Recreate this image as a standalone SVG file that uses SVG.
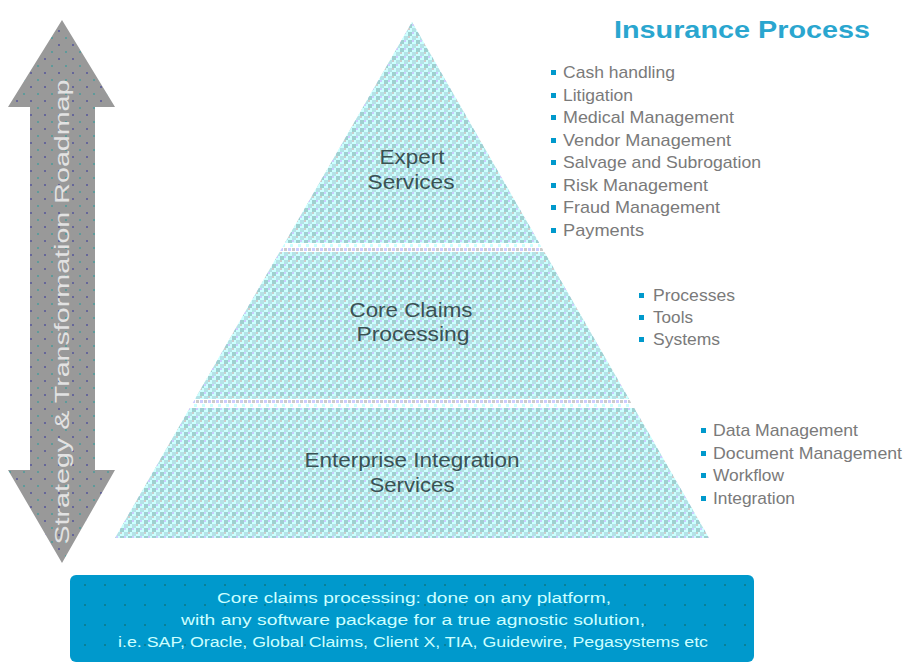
<svg xmlns="http://www.w3.org/2000/svg" width="904" height="666" viewBox="0 0 904 666">
<defs>
<pattern id="pyr" width="8" height="8" patternUnits="userSpaceOnUse">
<rect width="8" height="8" fill="#ccffff"/>
<rect x="0" y="0" width="4" height="4" fill="#9fd0d0"/>
<rect x="4" y="4" width="4" height="4" fill="#b4e2e6"/>
<rect x="4" y="0" width="2" height="2" fill="#ccccff"/>
<rect x="0" y="4" width="2" height="2" fill="#cccccc"/>
</pattern>
<pattern id="gap" width="8" height="8" patternUnits="userSpaceOnUse">
<rect width="8" height="8" fill="#ffffff"/>
<rect x="0" y="0" width="3" height="3" fill="#ccccff"/>
<rect x="4" y="0" width="3" height="3" fill="#cccccc"/>
<rect x="2" y="4" width="3" height="3" fill="#ccffff"/>
</pattern>
<pattern id="arrowdots" width="14" height="14" patternUnits="userSpaceOnUse">
<rect width="14" height="14" fill="#999999"/>
<rect x="2" y="2" width="2" height="2" fill="#666699"/>
<rect x="9" y="9" width="2" height="2" fill="#5f9a9a"/>
</pattern>
<pattern id="boxdots" width="20" height="20" patternUnits="userSpaceOnUse">
<rect width="20" height="20" fill="#0099cc"/>
<rect x="4" y="4" width="2" height="2" fill="#0a8095"/>
</pattern>
<style>
.lvl{font-family:"Liberation Sans",Arial,sans-serif;font-size:20px;fill:#3a5254;text-anchor:middle}
.item{font-family:"Liberation Sans",Arial,sans-serif;font-size:17px;fill:#7a7a7a}
.bul{fill:#0099cc}
.note{font-family:"Liberation Sans",Arial,sans-serif;font-size:14px;fill:#ccffff;text-anchor:middle}
</style>
</defs>

<g id="roadmap-arrow">
<polygon points="62,20 115,107 95,107 95,470 115,470 62,563 8,470 30,470 30,107 8,107" fill="url(#arrowdots)"/>
<text x="0" y="0" transform="translate(69,312) rotate(-90)" font-family="'Liberation Sans',Arial,sans-serif" font-size="21" fill="#e2e2e2" text-anchor="middle" textLength="465" lengthAdjust="spacingAndGlyphs">Strategy &amp; Transformation Roadmap</text>
</g>

<g id="pyramid">
<polygon points="412,22 709,538 115,538" fill="url(#gap)"/>
<g id="expert-services">
<polygon points="412,22 539.2,243 284.8,243" fill="url(#pyr)"/>
<text class="lvl" x="412" y="164" textLength="65" lengthAdjust="spacingAndGlyphs">Expert</text>
<text class="lvl" x="411" y="189" textLength="87" lengthAdjust="spacingAndGlyphs">Services</text>
</g>
<g id="core-claims">
<polygon points="279.6,252 544.4,252 629,399 195,399" fill="url(#pyr)"/>
<text class="lvl" x="411" y="317" textLength="123" lengthAdjust="spacingAndGlyphs">Core Claims</text>
<text class="lvl" x="413" y="341" textLength="113" lengthAdjust="spacingAndGlyphs">Processing</text>
</g>
<g id="enterprise-integration">
<polygon points="189.8,408 634.2,408 709,538 115,538" fill="url(#pyr)"/>
<text class="lvl" x="412" y="467" textLength="215" lengthAdjust="spacingAndGlyphs">Enterprise Integration</text>
<text class="lvl" x="412" y="492" textLength="85" lengthAdjust="spacingAndGlyphs">Services</text>
</g>
</g>

<g id="title">
<text x="614" y="38" font-family="'Liberation Sans',Arial,sans-serif" font-size="24" font-weight="bold" fill="#2aa6cf" textLength="256" lengthAdjust="spacingAndGlyphs">Insurance Process</text>
</g>

<g id="expert-list">
<rect class="bul" x="551" y="70" width="5" height="5"/><text class="item" x="563" y="78" textLength="112" lengthAdjust="spacingAndGlyphs">Cash handling</text>
<rect class="bul" x="551" y="93" width="5" height="5"/><text class="item" x="563" y="101" textLength="70" lengthAdjust="spacingAndGlyphs">Litigation</text>
<rect class="bul" x="551" y="115" width="5" height="5"/><text class="item" x="563" y="123" textLength="171" lengthAdjust="spacingAndGlyphs">Medical Management</text>
<rect class="bul" x="551" y="138" width="5" height="5"/><text class="item" x="563" y="146" textLength="168" lengthAdjust="spacingAndGlyphs">Vendor Management</text>
<rect class="bul" x="551" y="160" width="5" height="5"/><text class="item" x="563" y="168" textLength="198" lengthAdjust="spacingAndGlyphs">Salvage and Subrogation</text>
<rect class="bul" x="551" y="183" width="5" height="5"/><text class="item" x="563" y="191" textLength="145" lengthAdjust="spacingAndGlyphs">Risk Management</text>
<rect class="bul" x="551" y="205" width="5" height="5"/><text class="item" x="563" y="213" textLength="157" lengthAdjust="spacingAndGlyphs">Fraud Management</text>
<rect class="bul" x="551" y="228" width="5" height="5"/><text class="item" x="563" y="236" textLength="81" lengthAdjust="spacingAndGlyphs">Payments</text>
</g>

<g id="core-list">
<rect class="bul" x="639" y="293" width="5" height="5"/><text class="item" x="653" y="301" textLength="82" lengthAdjust="spacingAndGlyphs">Processes</text>
<rect class="bul" x="639" y="315" width="5" height="5"/><text class="item" x="653" y="323" textLength="40" lengthAdjust="spacingAndGlyphs">Tools</text>
<rect class="bul" x="639" y="337" width="5" height="5"/><text class="item" x="653" y="345" textLength="67" lengthAdjust="spacingAndGlyphs">Systems</text>
</g>

<g id="enterprise-list">
<rect class="bul" x="701" y="428" width="5" height="5"/><text class="item" x="713" y="436" textLength="145" lengthAdjust="spacingAndGlyphs">Data Management</text>
<rect class="bul" x="701" y="451" width="5" height="5"/><text class="item" x="713" y="459" textLength="189" lengthAdjust="spacingAndGlyphs">Document Management</text>
<rect class="bul" x="701" y="473" width="5" height="5"/><text class="item" x="713" y="481" textLength="71" lengthAdjust="spacingAndGlyphs">Workflow</text>
<rect class="bul" x="701" y="496" width="5" height="5"/><text class="item" x="713" y="504" textLength="82" lengthAdjust="spacingAndGlyphs">Integration</text>
</g>

<g id="platform-note">
<rect x="70" y="575" width="684" height="87" rx="6" fill="url(#boxdots)"/>
<text class="note" x="414" y="603" textLength="394" lengthAdjust="spacingAndGlyphs">Core claims processing: done on any platform,</text>
<text class="note" x="413" y="625" textLength="464" lengthAdjust="spacingAndGlyphs">with any software package for a true agnostic solution,</text>
<text class="note" x="413" y="647" textLength="590" lengthAdjust="spacingAndGlyphs">i.e. SAP, Oracle, Global Claims, Client X, TIA, Guidewire, Pegasystems etc</text>
</g>
</svg>
